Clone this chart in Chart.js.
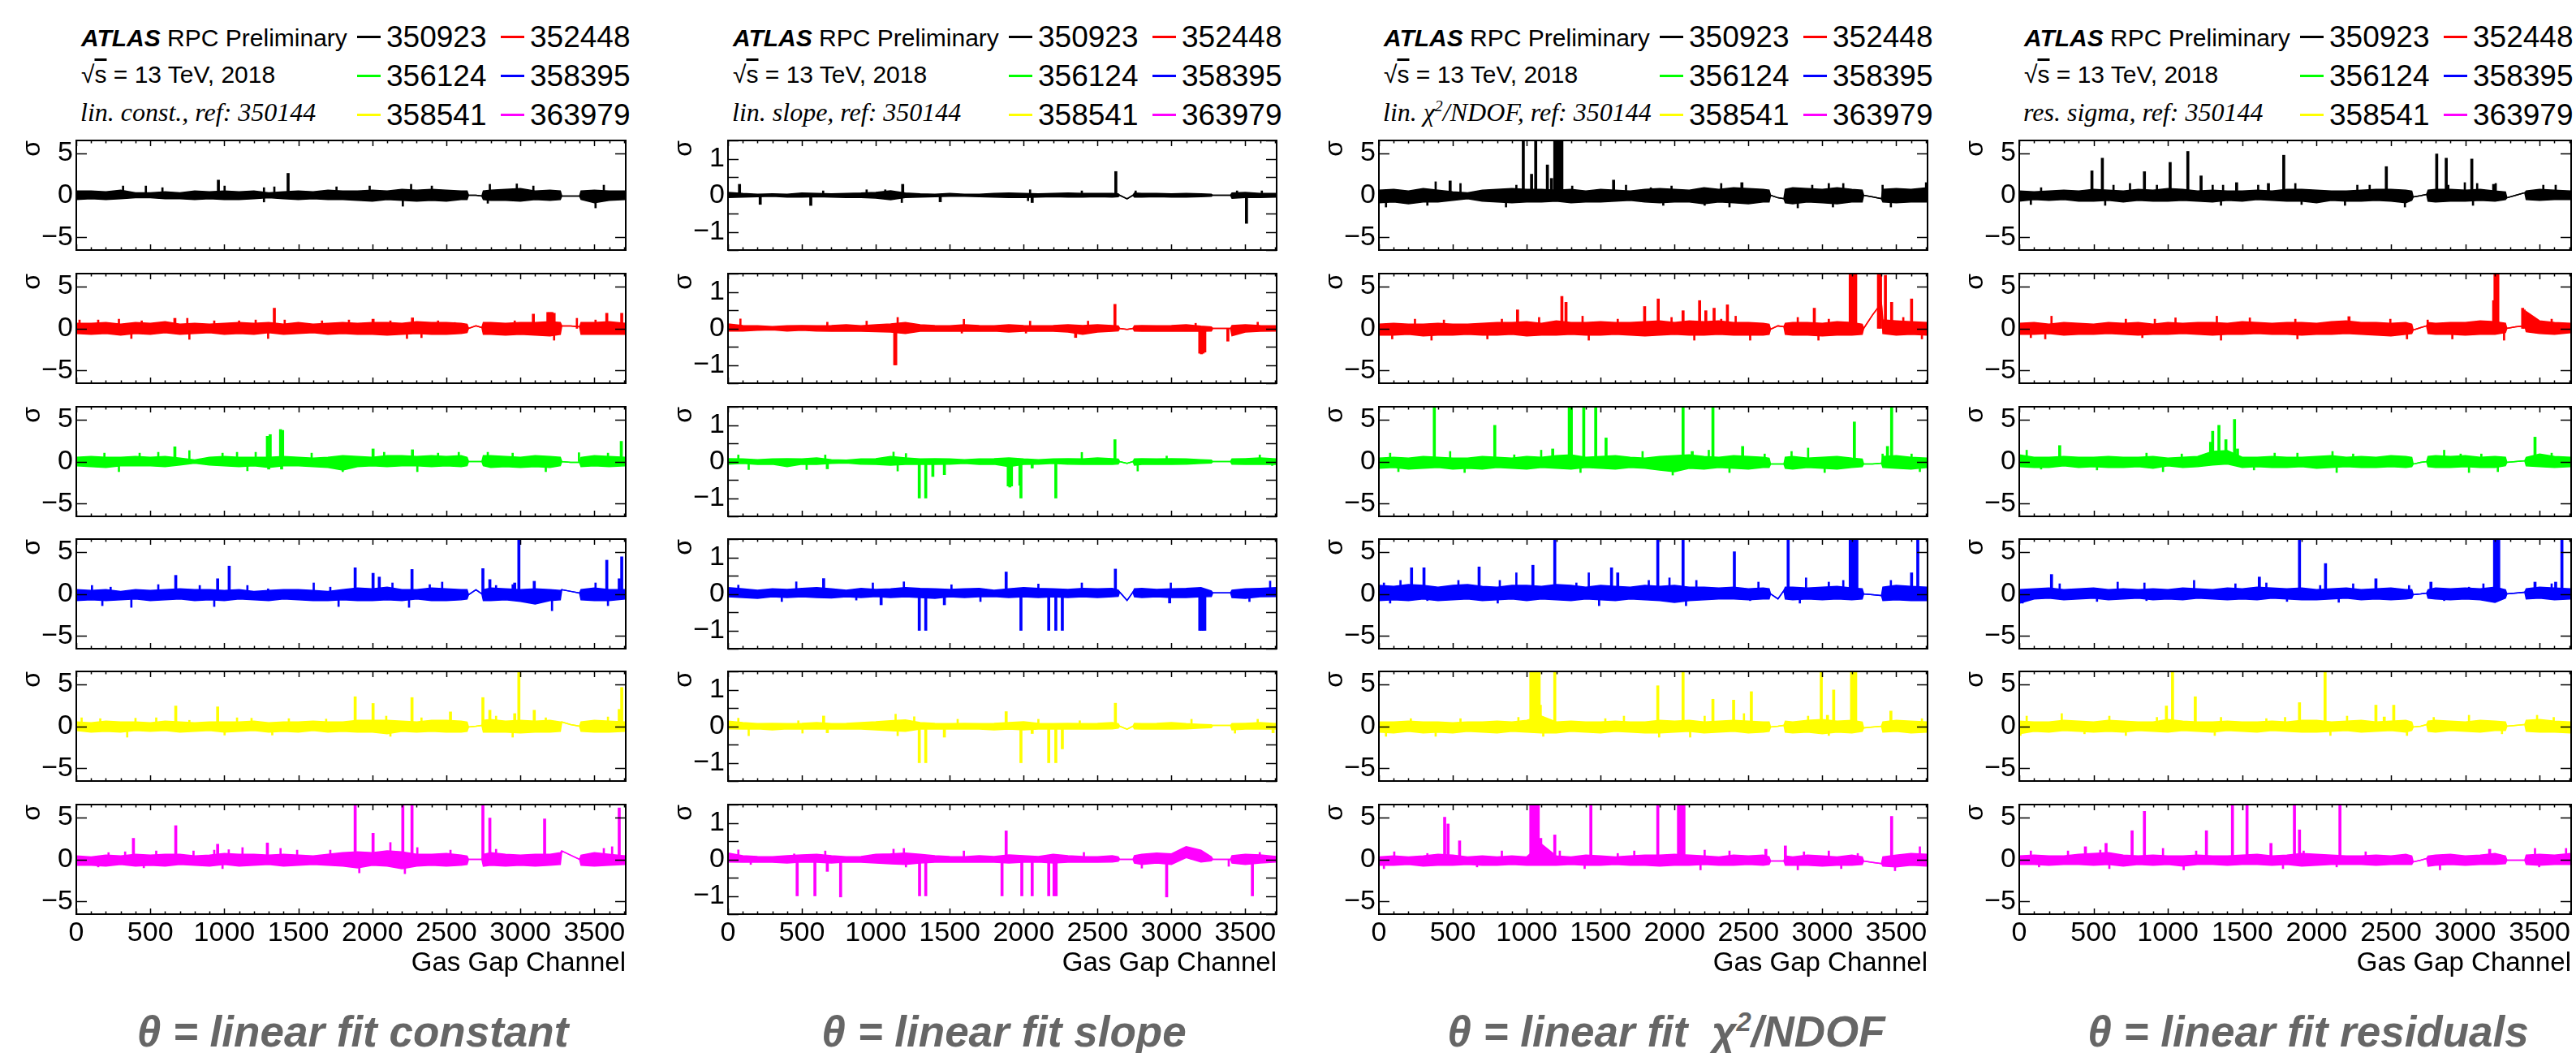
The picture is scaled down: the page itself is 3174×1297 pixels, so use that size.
<!DOCTYPE html>
<html lang="en">
<head>
<meta charset="utf-8">
<title>RPC gas gap channel stability</title>
<script src="https://cdn.jsdelivr.net/npm/chart.js@4.4.1/dist/chart.umd.min.js"></script>
<style>
  html, body { margin: 0; padding: 0; background: #fff; }
  #page { position: relative; width: 3174px; height: 1297px; overflow: hidden;
          font-family: "Liberation Sans", Arial, Helvetica, sans-serif; color: #000; }
  #page canvas { position: absolute; }
  .txt { position: absolute; white-space: nowrap; }
  .hdr { font-size: 30px; line-height: 30px; }
  .note { font-family: "Liberation Serif", "Times New Roman", serif; font-style: italic; font-size: 32px; line-height: 32px; }
  .run { font-size: 37px; line-height: 37px; }
  .swatch { position: absolute; width: 29px; height: 3px; }
  .theta { width: 900px; text-align: center; font-size: 53px; line-height: 53px;
           font-weight: bold; font-style: italic; color: #666; }
  sup { font-size: 0.62em; line-height: 0; }
</style>
</head>
<body>
<div id="page"></div>
<script>
// channels at which the band (upper / lower extent) of every trace is read
const channels = [0,100,200,300,400,500,600,700,800,900,1000,1100,1200,1300,1400,1500,1600,1700,1800,1900,
  2000,2100,2200,2300,2400,2500,2600, 2640,2650,2700,2740,2750, 2800,2900,3000,3100,3200,
  3270,3280,3340,3400,3410, 3500,3600,3710];

const runs = ["350923", "352448", "356124", "358395", "358541", "363979"];
const runColors = ["#000000", "#ff0000", "#00ff00", "#0000ff", "#ffff00", "#ff00ff"];

const xTickValues = [0, 500, 1000, 1500, 2000, 2500, 3000, 3500];
const yTickValues = [[-5, 0, 5], [-1, 0, 1], [-5, 0, 5], [-5, 0, 5]];
const yLimits = [6.5, 1.5, 6.5, 6.5];
const yMinorSteps = [5, 0.5, 5, 5];

const notes = ["lin. const., ref: 350144", "lin. slope, ref: 350144",
  "lin. &chi;<sup>2</sup>/NDOF, ref: 350144", "res. sigma, ref: 350144"];
const thetaNames = ["&theta; = linear fit constant", "&theta; = linear fit slope",
  "&theta; = linear fit&nbsp; &chi;<sup>2</sup>/NDOF", "&theta; = linear fit residuals"];

// ---- linear fit constant ----
const constHi = [
  [0.5,0.5,0.4,0.6,0.3,0.3,0.4,0.3,0.5,0.4,0.5,0.4,0.5,0.3,0.4,0.5,0.4,0.6,0.5,0.5,0.6,0.5,0.7,0.6,0.7,0.6,0.5,0.5, 0,0,-0.1, 0.5,0.6,0.7,0.8,0.5,0.6,0.5, -0.1,-0.1,-0.1, 0.5,0.6,0.5,0.5],
  [0.6,0.6,0.7,0.5,0.7,0.6,0.8,0.5,0.6,0.5,0.6,0.7,0.6,0.7,0.5,0.7,0.5,0.6,0.7,0.6,0.7,0.7,0.6,0.8,0.7,0.7,0.6,0.5, 0,0.3,0.1, 0.7,0.7,0.6,0.7,0.7,0.8,0.7, 0.3,0.3,0.2, 0.7,0.7,0.8,0.6],
  [0.5,0.6,0.5,0.5,0.6,0.5,0.6,0.4,0.2,0.5,0.6,0.5,0.5,0.5,0.6,0.5,0.4,0.5,0.7,0.6,0.5,0.7,0.7,0.6,0.7,0.6,0.7,0.5, 0,0,0, 0.7,0.7,0.6,0.5,0.7,0.6,0.5, 0,-0.1,-0.1, 0.5,0.7,0.6,0.5],
  [0.5,0.4,0.5,0.3,0.5,0.4,0.5,0.6,0.5,0.5,0.4,0.5,0.3,0.4,0.5,0.5,0.4,0.3,0.5,0.7,0.6,0.8,0.5,0.5,0.7,0.6,0.5,0.5, -0.1,0.5,0, 0.5,0.7,0.6,0.5,0.6,0.5,0.4, 0.5,0.3,0.1, 0.5,0.7,0.5,0.5],
  [0.5,0.4,0.6,0.5,0.5,0.4,0.6,0.5,0.4,0.5,0.5,0.5,0.6,0.4,0.5,0.5,0.6,0.5,0.5,0.7,0.7,0.7,0.6,0.5,0.7,0.7,0.6,0.5, -0.1,0,0.1, 0.7,0.8,0.6,0.7,0.6,0.7,0.5, 0.5,0.2,0, 0.5,0.7,0.6,0.5],
  [0.4,0.3,0.5,0.4,0.6,0.5,0.6,0.6,0.4,0.5,0.7,0.6,0.6,0.5,0.6,0.5,0.4,0.6,0.8,0.9,0.8,1.0,0.9,0.6,0.6,0.7,0.5,0.4, 0,0,0, 0.6,0.8,0.6,0.5,0.6,0.6,0.8, 1.0,0.5,0, 0.5,0.8,0.6,0.4]
];
const constLo = [
  [-0.5,-0.4,-0.5,-0.4,-0.3,-0.3,-0.4,-0.4,-0.5,-0.4,-0.5,-0.5,-0.4,-0.3,-0.4,-0.5,-0.4,-0.5,-0.5,-0.6,-0.7,-0.5,-0.6,-0.7,-0.6,-0.7,-0.5,-0.5, 0,0,-0.1, -0.5,-0.6,-0.6,-0.7,-0.5,-0.6,-0.5, -0.1,-0.1,-0.1, -0.5,-0.9,-0.6,-0.5],
  [-0.6,-0.7,-0.6,-0.8,-0.6,-0.7,-0.5,-0.7,-0.6,-0.5,-0.7,-0.6,-0.7,-0.5,-0.7,-0.6,-0.5,-0.7,-0.6,-0.7,-0.7,-0.8,-0.7,-0.6,-0.7,-0.7,-0.6,-0.5, 0,0.3,0.1, -0.7,-0.7,-0.8,-0.7,-0.8,-0.9,-0.7, 0.3,0.3,0.2, -0.7,-0.7,-0.7,-0.7],
  [-0.5,-0.6,-0.7,-0.5,-0.5,-0.5,-0.6,-0.4,-0.2,-0.4,-0.5,-0.6,-0.5,-0.7,-0.5,-0.5,-0.6,-0.7,-1.0,-0.6,-0.5,-0.6,-0.5,-0.5,-0.6,-0.5,-0.6,-0.5, 0,0,0, -0.5,-0.7,-0.6,-0.7,-0.6,-0.7,-0.5, 0,-0.1,-0.1, -0.6,-0.5,-0.6,-0.5],
  [-0.8,-0.7,-0.8,-0.7,-0.6,-0.8,-0.7,-0.6,-0.8,-0.7,-0.8,-0.6,-0.7,-0.8,-0.6,-0.7,-0.8,-0.8,-0.7,-0.8,-0.8,-0.7,-0.8,-0.6,-0.8,-0.8,-0.7,-0.6, -0.1,0.5,0, -0.8,-0.8,-0.7,-0.9,-1.2,-0.8,-0.7, 0.5,0.3,0.1, -0.7,-0.8,-0.8,-0.6],
  [-0.5,-0.7,-0.6,-0.7,-0.5,-0.6,-0.5,-0.7,-0.6,-0.5,-0.7,-0.6,-0.5,-0.7,-0.6,-0.7,-0.5,-0.7,-0.6,-0.7,-0.7,-0.9,-0.6,-0.7,-0.6,-0.7,-0.7,-0.6, -0.1,0,0.1, -0.7,-0.7,-0.7,-0.8,-0.7,-0.7,-0.6, 0.5,0.2,0, -0.6,-0.7,-0.7,-0.6],
  [-0.7,-0.7,-0.8,-0.6,-0.8,-0.7,-0.8,-0.6,-0.7,-0.8,-0.6,-0.8,-0.7,-0.6,-0.8,-0.7,-0.6,-0.7,-0.8,-1.0,-0.7,-0.8,-1.1,-0.8,-0.7,-0.8,-0.7,-0.6, 0,0,0, -0.8,-0.7,-0.8,-0.7,-0.8,-0.7,-0.6, 1.0,0.5,0, -0.7,-0.8,-0.7,-0.6]
];
const constSpikes = [
  [[960,1.8],[1431,2.6]],
  [[666,1.2],[1338,2.4],[2005,1.1],[2271,1.25],[3088,1.7],[3186,1.9],[3200,1.9],[3214,1.9],[3228,1.8],[3584,1.8],[3685,1.8]],
  [[666,1.75],[1291,3.0],[1300,-0.9],[1310,3.2],[1380,3.8],[1387,-0.9],[1394,3.7],[2005,1.5],[2271,1.4],[3682,2.4]],
  [[672,2.2],[955,1.8],[1033,3.3],[1884,3.1],[2005,2.45],[2047,2.0],[2268,2.9],[2747,3.0],[2794,1.7],[2962,1.3],[2990,7],[3094,1.5],[3584,4.0],[3668,1.8],[3685,4.4]],
  [[672,2.4],[955,2.3],[1884,3.5],[2005,2.7],[2268,3.4],[2528,1.7],[2747,3.4],[2794,1.9],[2962,1.5],[2990,7],[3094,1.9],[3668,2.0],[3685,4.6]],
  [[386,2.5],[672,4.0],[955,1.8],[1291,1.95],[1884,7],[2005,3.1],[2206,7],[2268,7],[2747,7],[2794,4.9],[3164,4.8],[3668,6.1]]
];
// small excursions poking out of the band
const constHairs = [
  [[316,1.1],[470,1.1],[582,0.9],[1002,1.1],[1268,0.9],[1338,1.0],[1758,1.0],[1982,1.1],[2262,1.3],[2402,1.1],[2794,1.3],[2976,1.35],[3088,1.1],[3564,1.2],[2206,-1.3],[3508,-1.5],[2780,-0.95],[1268,-0.8]],
  [[22,1.0],[148,1.0],[288,1.1],[442,0.9],[750,1.2],[932,0.9],[1100,0.9],[1212,1.0],[1408,1.0],[1660,0.9],[1842,1.0],[2122,0.9],[2444,0.9],[2556,0.7],[2962,0.9],[3382,1.2],[3508,1.0],[372,-1.2],[764,-1.3],[1296,-1.2],[2234,-1.2],[2332,-1.1],[3228,-1.4]],
  [[190,1.0],[428,1.0],[554,1.1],[764,1.3],[988,1.0],[1086,1.1],[1212,1.1],[1590,1.0],[2080,1.1],[2444,1.0],[2584,1.1],[2780,1.1],[2948,1.0],[3396,1.05],[3592,1.0],[288,-1.2],[1156,-1.1],[1800,-1.2],[2304,-1.2],[3172,-1.2]],
  [[106,1.0],[232,0.8],[554,1.1],[834,1.0],[1156,1.0],[1296,0.6],[1604,1.3],[1716,0.8],[2136,1.3],[2388,1.1],[2472,1.4],[2836,1.0],[2948,1.1],[3508,1.3],[176,-1.4],[372,-1.6],[932,-1.5],[1772,-1.5],[2248,-1.6],[3214,-2.0],[3592,-1.4]],
  [[36,1.0],[162,0.9],[400,0.95],[540,1.0],[764,0.7],[1086,1.0],[1184,0.95],[1436,0.9],[1688,0.85],[2094,1.2],[2332,1.0],[2836,1.2],[3172,1.0],[3592,1.1],[344,-1.3],[1002,-1.05],[1324,-1.05],[2122,-1.2],[2948,-1.3]],
  [[218,0.8],[330,0.9],[540,1.0],[792,1.0],[932,1.1],[1030,1.15],[1123,1.4],[1380,1.3],[1492,1.1],[1716,1.1],[2122,2.0],[2304,1.4],[2528,1.1],[2836,1.2],[3564,1.3],[3620,1.5],[148,-0.9],[456,-1.0],[988,-1.1],[1912,-1.6],[2220,-1.7]]
];

// ---- linear fit slope ----
const slopeHi = [
  [0.08,0.05,0.03,0.04,0.03,0.06,0.05,0.04,0.05,0.06,0.08,0.12,0.06,0.04,0.03,0.05,0.03,0.03,0.05,0.06,0.05,0.04,0.05,0.06,0.05,0.05,0.05,0.04, 0,-0.1,0, 0.06,0.05,0.05,0.04,0.05,0.04,0.03, 0,0,0, 0.06,0.08,0.05,0.05],
  [0.12,0.08,0.07,0.05,0.07,0.08,0.07,0.08,0.1,0.07,0.1,0.12,0.16,0.1,0.08,0.07,0.1,0.08,0.07,0.1,0.08,0.07,0.08,0.1,0.08,0.1,0.08,0.07, 0,-0.03,0, 0.07,0.08,0.07,0.08,0.1,0.06,0.04, 0,0,0, 0.08,0.1,0.08,0.07],
  [0.08,0.07,0.05,0.07,0.08,0.07,0.1,0.05,0.04,0.07,0.08,0.14,0.1,0.07,0.08,0.07,0.05,0.07,0.08,0.1,0.07,0.05,0.07,0.08,0.07,0.1,0.08,0.07, 0,-0.05,0, 0.07,0.08,0.07,0.08,0.07,0.05,0.04, 0,0,0, 0.07,0.08,0.1,0.07],
  [0.17,0.14,0.1,0.14,0.12,0.15,0.17,0.14,0.1,0.15,0.12,0.14,0.17,0.15,0.14,0.12,0.14,0.15,0.1,0.14,0.17,0.15,0.14,0.12,0.15,0.14,0.15,0.1, 0.05,-0.18,0.05, 0.14,0.15,0.12,0.14,0.15,0.17,0.08, 0.03,0.03,0.03, 0.1,0.14,0.15,0.17],
  [0.14,0.1,0.07,0.08,0.07,0.08,0.1,0.07,0.08,0.1,0.12,0.15,0.17,0.1,0.08,0.07,0.08,0.07,0.08,0.1,0.12,0.08,0.07,0.08,0.07,0.08,0.1,0.07, 0,-0.08,0, 0.08,0.07,0.08,0.1,0.07,0.05,0.04, 0.02,0.02,0.02, 0.07,0.08,0.1,0.07],
  [0.17,0.1,0.08,0.07,0.1,0.12,0.14,0.1,0.07,0.08,0.14,0.15,0.17,0.14,0.1,0.08,0.07,0.1,0.08,0.12,0.1,0.08,0.14,0.1,0.08,0.07,0.1,0.07, 0,0,0, 0.1,0.14,0.17,0.15,0.35,0.25,0.07, 0,0,0, 0.1,0.14,0.12,0.08]
];
const slopeLo = [
  [-0.06,-0.05,-0.04,-0.03,-0.05,-0.05,-0.04,-0.05,-0.06,-0.06,-0.08,-0.12,-0.06,-0.05,-0.04,-0.03,-0.03,-0.04,-0.05,-0.06,-0.06,-0.05,-0.04,-0.05,-0.05,-0.04,-0.05,-0.04, 0,-0.1,0, -0.05,-0.05,-0.04,-0.05,-0.05,-0.04,-0.03, 0,0,0, -0.08,-0.06,-0.06,-0.05],
  [-0.07,-0.07,-0.05,-0.04,-0.07,-0.05,-0.07,-0.08,-0.07,-0.08,-0.09,-0.1,-0.14,-0.08,-0.07,-0.08,-0.07,-0.08,-0.07,-0.1,-0.08,-0.07,-0.08,-0.1,-0.16,-0.1,-0.08,-0.07, 0,-0.03,0, -0.07,-0.08,-0.07,-0.08,-0.07,-0.08,-0.07, 0,0,0, -0.2,-0.1,-0.08,-0.07],
  [-0.07,-0.05,-0.08,-0.07,-0.14,-0.07,-0.08,-0.05,-0.04,-0.07,-0.08,-0.1,-0.08,-0.07,-0.08,-0.07,-0.05,-0.08,-0.07,-0.14,-0.08,-0.07,-0.05,-0.07,-0.08,-0.07,-0.08,-0.07, 0,-0.05,0, -0.1,-0.08,-0.07,-0.08,-0.07,-0.05,-0.04, 0,0,0, -0.07,-0.08,-0.07,-0.08],
  [-0.08,-0.1,-0.12,-0.08,-0.1,-0.08,-0.1,-0.11,-0.08,-0.1,-0.07,-0.1,-0.08,-0.1,-0.12,-0.08,-0.1,-0.08,-0.07,-0.1,-0.08,-0.1,-0.08,-0.1,-0.08,-0.1,-0.08,-0.07, 0.05,-0.18,0.05, -0.08,-0.1,-0.08,-0.1,-0.1,-0.08,-0.07, 0.03,0.03,0.03, -0.1,-0.12,-0.08,-0.07],
  [-0.07,-0.08,-0.07,-0.1,-0.07,-0.08,-0.07,-0.08,-0.07,-0.08,-0.1,-0.12,-0.14,-0.08,-0.07,-0.08,-0.07,-0.08,-0.1,-0.08,-0.1,-0.08,-0.07,-0.08,-0.07,-0.08,-0.07,-0.05, 0,-0.08,0, -0.07,-0.08,-0.07,-0.08,-0.07,-0.05,-0.04, 0.02,0.02,0.02, -0.1,-0.08,-0.07,-0.08],
  [-0.07,-0.08,-0.07,-0.08,-0.1,-0.07,-0.08,-0.1,-0.07,-0.08,-0.1,-0.12,-0.14,-0.1,-0.08,-0.07,-0.08,-0.07,-0.08,-0.1,-0.08,-0.07,-0.1,-0.08,-0.07,-0.08,-0.07,-0.05, 0,0,0, -0.1,-0.14,-0.1,-0.14,0.05,-0.07,-0.04, 0,0,0, -0.1,-0.14,-0.1,-0.07]
];
const slopeSpikes = [
  [[78,0.3],[218,-0.25],[560,-0.28],[1182,0.3],[1436,-0.18],[2058,-0.2],[2624,0.65],[3508,-0.77]],
  [[1128,-1.0],[1135,-1.0],[2352,-0.25],[2618,0.66],[3192,-0.68],[3203,-0.7],[3214,-0.68],[3226,-0.65],[3382,-0.35]],
  [[672,-0.2],[1294,-1],[1338,-1],[1386,-0.41],[1464,-0.36],[1896,-0.67],[1907,-0.7],[1918,-0.67],[1975,-0.65],[1982,-1],[2058,-0.18],[2218,-1],[2618,0.6]],
  [[647,0.42],[1036,-0.3],[1294,-1],[1338,-1],[1464,-0.3],[1882,0.6],[1982,-1],[2170,-1],[2218,-1],[2262,-1],[2621,0.68],[2988,-0.25],[3192,-1],[3203,-1],[3214,-1],[3226,-1]],
  [[647,0.28],[672,-0.18],[1294,-1],[1338,-1],[1464,-0.3],[1882,0.4],[1982,-1],[2058,-0.2],[2170,-1],[2218,-1],[2262,-0.62],[2621,0.63],[3688,-0.18]],
  [[468,-1],[588,-1],[672,-0.33],[762,-1.03],[1296,-1],[1338,-1],[1854,-1],[1882,0.78],[1988,-1],[2058,-1],[2170,-1],[2206,-1],[2220,-1],[2968,-1.03],[3548,-1]]
];
const slopeHairs = [
  [[644,0.12],[938,0.15],[1064,0.15],[2044,0.15],[2394,0.12],[2758,0.12],[3444,0.12],[3612,0.12],[1176,-0.2],[2030,-0.15]],
  [[84,0.26],[672,0.17],[938,0.2],[1148,0.3],[1596,0.25],[2044,0.2],[2436,0.2],[3164,0.14],[3584,0.17],[1582,-0.13],[2016,-0.13]],
  [[70,0.18],[658,0.18],[1120,0.26],[1204,0.22],[2394,0.25],[2968,0.15],[3598,0.18],[140,-0.22],[532,-0.22],[1148,-0.26],[2772,-0.26],[3682,-0.11]],
  [[70,0.24],[462,0.33],[980,0.3],[1190,0.33],[1512,0.25],[2100,0.27],[2394,0.3],[2996,0.3],[3668,0.35],[364,-0.21],[868,-0.17],[1708,-0.21],[3528,-0.21]],
  [[70,0.22],[476,0.15],[1134,0.33],[1260,0.26],[1554,0.19],[2100,0.19],[2380,0.15],[3136,0.19],[3584,0.19],[140,-0.26],[504,-0.19],[1148,-0.26],[3430,-0.19]],
  [[70,0.26],[448,0.15],[658,0.23],[1120,0.28],[1190,0.3],[1596,0.23],[2408,0.19],[3136,0.26],[3598,0.19],[154,-0.14],[1204,-0.21],[2800,-0.24],[3388,-0.19]]
];

// ---- linear fit chi2/NDOF ----
const chi2Hi = [
  [0.6,0.7,0.5,0.8,0.6,0.4,0.3,0.6,0.7,0.8,0.7,0.7,0.6,0.7,0.5,0.7,0.6,0.5,0.7,0.8,0.7,0.6,0.9,0.7,0.9,0.8,0.7,0.6, 0,-0.3,-0.4, 0.7,0.9,0.8,0.7,0.9,0.7,0.6, 0,-0.2,-0.4, 0.7,0.8,0.7,0.9],
  [0.5,0.6,0.5,0.5,0.6,0.5,0.5,0.6,0.7,0.7,0.8,0.6,0.9,0.7,0.7,0.8,0.7,0.7,0.8,0.9,0.7,0.9,0.8,0.9,0.7,0.7,0.6,0.5, -0.1,0.3,0.2, 0.6,0.7,0.7,0.6,0.8,0.7,0.5, 0,1.6,3.0, 1.0,0.9,0.8,0.7],
  [0.4,0.5,0.4,0.6,0.5,0.4,0.4,0.6,0.5,0.4,0.6,0.5,0.7,0.8,0.5,0.6,0.7,0.5,0.4,0.6,0.7,0.8,0.6,0.5,0.7,0.6,0.5,0.4, -0.3,-0.3,-0.3, 0.5,0.6,0.4,0.5,0.6,0.4,0.3, -0.3,-0.3,-0.2, 0.6,0.7,0.5,0.4],
  [1.0,0.9,1.1,1.0,0.8,1.0,1.1,0.9,0.8,1.0,1.0,0.9,1.1,1.0,0.8,1.0,0.9,0.8,1.0,0.9,1.0,0.8,0.8,0.7,0.8,0.6,0.7,0.6, 0,-0.6,0.4, 0.8,0.8,0.7,0.8,0.9,0.7,0.6, 0,-0.1,-0.2, 0.8,1.0,0.9,0.8],
  [0.5,0.5,0.6,0.5,0.5,0.4,0.5,0.5,0.6,0.5,0.7,1.2,0.5,0.6,0.5,0.5,0.6,0.5,0.5,0.7,0.6,0.7,0.5,0.6,0.7,0.6,0.5,0.5, -0.1,0,0.1, 0.6,0.5,0.7,0.8,0.6,0.7,0.5, -0.2,-0.1,0, 0.5,0.7,0.6,0.5],
  [0.3,0.4,0.3,0.4,0.6,0.5,0.3,0.4,0.3,0.4,0.3,1.8,0.4,0.3,0.5,0.4,0.3,0.4,0.5,0.5,0.6,0.5,0.4,0.3,0.5,0.4,0.5,0.3, -0.2,-0.2,-0.2, 0.4,0.3,0.5,0.4,0.3,0.5,0.3, -0.2,-0.35,-0.5, 0.3,0.5,0.7,0.6]
];
const chi2Lo = [
  [-0.9,-0.8,-1.0,-0.8,-0.8,-0.6,-0.4,-0.7,-0.8,-0.9,-0.8,-0.8,-0.7,-0.9,-0.8,-0.8,-0.7,-0.6,-0.8,-0.9,-0.8,-0.8,-1.0,-0.8,-0.9,-1.0,-0.8,-0.8, 0,-0.3,-0.4, -0.9,-1.0,-0.8,-0.9,-1.0,-0.8,-0.8, 0,-0.2,-0.4, -0.8,-0.9,-0.8,-0.8],
  [-0.8,-0.8,-0.7,-0.9,-0.8,-0.8,-0.7,-0.8,-0.8,-0.7,-0.9,-0.8,-0.8,-0.7,-0.8,-0.8,-0.7,-0.8,-0.9,-0.8,-0.7,-0.8,-0.8,-0.7,-0.8,-0.8,-0.8,-0.7, -0.1,0.3,0.2, -0.7,-0.8,-0.8,-0.9,-0.8,-0.8,-0.7, 0,1.6,3.0, -0.6,-0.8,-0.7,-0.8],
  [-0.8,-0.7,-0.9,-0.8,-0.7,-0.9,-0.8,-0.9,-0.7,-0.8,-0.9,-0.7,-0.8,-0.9,-0.7,-0.8,-0.9,-0.7,-0.8,-1.0,-1.2,-0.8,-0.9,-0.7,-0.8,-0.9,-0.7,-0.7, -0.3,-0.3,-0.3, -0.8,-0.9,-0.7,-0.8,-0.9,-0.7,-0.6, -0.3,-0.3,-0.2, -0.7,-0.8,-0.9,-0.7],
  [-0.8,-0.7,-0.8,-0.6,-0.8,-0.7,-0.6,-0.8,-0.7,-0.6,-0.8,-0.6,-0.7,-0.8,-0.6,-0.7,-0.8,-0.6,-0.7,-0.8,-1.0,-0.8,-0.7,-0.6,-0.6,-0.7,-0.6,-0.6, 0,-0.6,0.4, -0.6,-0.7,-0.6,-0.7,-0.6,-0.7,-0.6, 0,-0.1,-0.2, -0.8,-0.7,-0.8,-0.8],
  [-0.7,-0.8,-0.6,-0.8,-0.7,-0.8,-0.6,-0.7,-0.8,-0.6,-0.7,-0.8,-0.8,-0.6,-0.7,-0.8,-0.6,-0.7,-0.8,-0.8,-0.7,-0.6,-0.8,-0.7,-0.6,-0.8,-0.7,-0.6, -0.1,0,0.1, -0.7,-0.8,-0.7,-0.9,-0.7,-0.8,-0.6, -0.2,-0.1,0, -0.7,-0.6,-0.8,-0.7],
  [-0.7,-0.7,-0.6,-0.8,-0.7,-0.7,-0.6,-0.7,-0.7,-0.6,-0.7,-0.7,-0.7,-0.6,-0.7,-0.7,-0.6,-0.7,-0.7,-0.8,-0.7,-0.7,-0.6,-0.7,-0.7,-0.6,-0.7,-0.6, -0.2,-0.2,-0.2, -0.7,-0.7,-0.7,-0.8,-0.7,-0.7,-0.6, -0.2,-0.35,-0.5, -0.8,-0.9,-0.7,-0.8]
];
const chi2Spikes = [
  [[482,1.7],[977,7],[1033,2.5],[1061,7],[1140,3.6],[1168,2.0],[1190,7],[1200,7],[1210,7],[1220,7],[1230,7],[1238,7],[1588,1.8],[2456,1.5]],
  [[938,2.2],[1238,3.8],[1266,3.1],[1798,2.6],[1890,3.5],[2058,2.1],[2170,3.3],[2212,2.1],[2268,2.4],[2358,2.8],[2946,2.4],[3189,7],[3200,7],[3210,7],[3220,7],[3226,7],[3380,7],[3394,7],[3427,6.3],[3469,3.1],[3604,3.5]],
  [[375,7],[784,4.3],[1176,1.5],[1288,7],[1302,7],[1386,7],[1467,7],[1537,2.8],[2058,7],[2120,1.2],[2260,7],[2461,1.8],[3217,4.7],[3441,1.8],[3469,7]],
  [[221,3.1],[305,3.1],[678,3.2],[1042,3.4],[1190,7],[1574,3.1],[1616,2.5],[1887,7],[2058,7],[2405,5.0],[2769,7],[3189,7],[3200,7],[3212,7],[3223,7],[3234,7],[3604,2.5],[3646,7]],
  [[1028,7],[1040,7],[1050,7],[1060,7],[1070,7],[1084,7],[1092,2.5],[1190,7],[1887,4.8],[2058,7],[2260,3.2],[2400,3.1],[2520,4.1],[2993,7],[3035,1.3],[3077,4.3],[3198,7],[3210,7],[3226,7],[3464,1.8]],
  [[445,5.0],[468,4.2],[546,2.2],[1028,7],[1040,7],[1050,7],[1060,7],[1070,7],[1078,7],[1095,2.5],[1190,2.9],[1434,7],[1887,7],[2027,7],[2040,7],[2052,7],[2064,7],[2618,1.2],[2750,1.6],[3469,5.1]]
];
const chi2Hairs = [
  [[384,1.6],[552,1.4],[930,1.2],[1308,1.1],[1672,1.2],[1840,0.9],[1980,1.1],[2316,1.4],[2932,1.2],[3044,1.4],[3142,1.4],[3408,1.2],[3702,1.5],[48,-1.4],[328,-1.2],[860,-1.4],[1924,-1.2],[2204,-1.2],[2372,-1.4],[2834,-1.5],[3072,-1.4],[3464,-1.4]],
  [[244,1.1],[440,1.0],[832,1.1],[1084,1.3],[1378,1.45],[1616,1.1],[1980,1.3],[2316,1.1],[2414,1.45],[2834,1.3],[3044,1.1],[3548,1.3],[90,-1.25],[356,-1.4],[734,-1.25],[1420,-1.4],[2134,-1.4],[2512,-1.4],[2974,-1.4],[3674,-1.25]],
  [[76,1.0],[482,1.2],[916,0.8],[1098,1.35],[1784,1.2],[2232,1.35],[2610,0.9],[2792,1.2],[2904,1.6],[3408,0.9],[3604,0.9],[132,-1.2],[580,-1.3],[1364,-1.3],[1988,-1.6],[2372,-1.3],[3016,-1.3],[3660,-1.2]],
  [[34,1.3],[146,1.6],[538,1.6],[818,1.6],[930,2.5],[1336,1.3],[1420,2.5],[1826,1.6],[1966,1.9],[2148,1.6],[2568,1.4],[2890,1.9],[3044,1.4],[3142,1.6],[3464,1.6],[76,-1.1],[328,-0.8],[804,-1.1],[1490,-1.4],[2078,-1.4],[2512,-0.8],[2848,-1.1]],
  [[216,0.9],[552,0.9],[944,1.05],[1532,0.9],[1658,1.2],[2204,1.2],[2470,1.5],[2904,1.2],[3674,0.9],[48,-1.2],[384,-1.2],[1112,-1.2],[1896,-1.3],[2106,-1.3],[3044,-1.1]],
  [[104,0.9],[328,0.7],[832,1.0],[1224,1.0],[1616,0.7],[1728,1.0],[2204,1.1],[2372,1.0],[2876,0.9],[3044,1.0],[3240,0.7],[3660,1.5],[34,-1.1],[664,-0.9],[1392,-1.1],[2176,-1.25],[2834,-1.25],[3128,-1.1],[3492,-1.35]]
];

// ---- linear fit residuals ----
const resHi = [
  [0.5,0.4,0.5,0.6,0.5,0.7,0.6,0.5,0.7,0.6,0.8,0.7,0.5,0.6,0.5,0.5,0.6,0.5,0.7,0.7,0.6,0.5,0.5,0.6,0.7,0.7,0.6,0.5, -0.2,-0.05,0.1, 0.6,0.7,0.7,0.6,0.7,0.5,0.4, -0.3,0,0.3, 0.5,0.7,0.6,0.5],
  [0.6,0.7,0.5,0.7,0.6,0.5,0.7,0.6,0.7,0.5,0.7,0.6,0.7,0.7,0.6,0.8,0.7,0.6,0.7,0.7,0.6,0.8,0.9,0.7,0.7,0.6,0.7,0.5, -0.2,0.1,0.3, 0.7,0.6,0.7,0.7,0.9,0.8,0.6, 0,0.2,0.3, 2.0,0.9,0.7,0.6],
  [0.8,0.5,0.5,0.6,0.5,0.5,0.6,0.5,0.5,0.6,0.4,0.5,0.6,1.2,1.3,0.5,0.5,0.6,0.5,0.5,0.6,0.7,0.5,0.6,0.5,0.7,0.6,0.5, -0.3,-0.1,0, 0.6,0.7,0.6,0.7,0.5,0.6,0.5, -0.1,0,0.1, 0.5,0.9,0.6,0.5],
  [0.5,0.6,0.7,0.5,0.6,0.7,0.5,0.6,0.5,0.6,0.5,0.7,0.6,0.5,0.7,0.6,0.8,0.7,0.6,0.7,0.5,0.6,0.7,0.5,0.6,0.7,0.5,0.5, -0.1,0,0.1, 0.5,0.7,0.6,0.7,0.6,0.8,0.5, 0,0.1,0.2, 0.6,0.8,0.7,0.6],
  [0.6,0.5,0.5,0.7,0.6,0.5,0.7,0.6,0.5,0.5,0.8,0.6,0.5,0.5,0.6,0.5,0.5,0.6,0.5,0.7,0.7,0.5,0.6,0.7,0.5,0.6,0.7,0.5, -0.1,0,0.2, 0.6,0.7,0.6,0.5,0.7,0.6,0.5, 0,0.1,0.2, 0.7,0.8,0.6,0.5],
  [0.4,0.5,0.4,0.4,0.6,0.7,0.8,0.5,0.4,0.5,0.4,0.4,0.5,0.4,0.4,0.5,0.6,0.4,0.5,0.7,0.6,0.5,0.4,0.4,0.5,0.4,0.6,0.4, -0.3,-0.1,0.1, 0.4,0.5,0.6,0.4,0.5,0.7,0.4, -0.1,-0.1,-0.1, 0.5,0.6,0.5,0.7]
];
const resLo = [
  [-0.7,-0.5,-0.6,-0.5,-0.7,-0.7,-0.6,-0.8,-0.6,-0.7,-0.7,-0.6,-0.7,-0.8,-0.6,-0.7,-0.5,-0.6,-0.7,-0.7,-0.9,-0.6,-0.7,-0.7,-0.6,-0.7,-0.9,-0.6, -0.2,-0.05,0.1, -0.7,-0.8,-0.7,-0.7,-0.6,-0.7,-0.5, -0.3,0,0.3, -0.5,-0.6,-0.5,-0.5],
  [-0.7,-0.7,-0.6,-0.8,-0.7,-0.7,-0.6,-0.7,-0.8,-0.7,-0.7,-0.6,-0.7,-0.8,-0.7,-0.7,-0.6,-0.7,-0.7,-0.8,-0.7,-0.7,-0.6,-0.7,-0.8,-0.9,-0.7,-0.6, -0.2,0.1,0.3, -0.6,-0.7,-0.7,-0.8,-0.7,-0.7,-0.5, 0,0.2,0.3, -0.4,-0.6,-0.7,-0.5],
  [-0.6,-0.7,-0.7,-0.5,-0.7,-0.6,-0.7,-0.7,-0.6,-0.8,-0.5,-0.7,-0.6,-0.4,-0.3,-0.7,-0.6,-0.7,-0.7,-0.6,-0.8,-0.7,-0.6,-0.7,-0.7,-0.6,-0.7,-0.6, -0.3,-0.1,0, -0.6,-0.7,-0.7,-0.6,-0.7,-0.7,-0.5, -0.1,0,0.1, -0.5,-0.6,-0.7,-0.6],
  [-1.1,-0.6,-0.5,-0.7,-0.6,-0.5,-0.7,-0.6,-0.5,-0.7,-0.6,-0.7,-0.5,-0.6,-0.7,-0.6,-0.7,-0.5,-0.6,-0.7,-0.7,-0.6,-0.5,-0.7,-0.6,-0.7,-0.6,-0.5, -0.1,0,0.1, -0.5,-0.6,-0.7,-0.6,-0.7,-1.0,-0.5, 0,0.1,0.2, -0.6,-0.5,-0.7,-0.6],
  [-0.9,-0.6,-0.7,-0.5,-0.6,-0.7,-0.6,-0.7,-0.5,-0.6,-0.7,-0.5,-0.6,-0.7,-0.5,-0.6,-0.7,-0.5,-0.6,-0.7,-0.7,-0.6,-0.5,-0.7,-0.6,-0.5,-0.7,-0.5, -0.1,0,0.2, -0.6,-0.7,-0.5,-0.6,-0.7,-0.5,-0.5, 0,0.1,0.2, -0.6,-0.7,-0.7,-0.8],
  [-0.6,-0.6,-0.7,-0.6,-0.6,-0.7,-0.6,-0.8,-0.6,-0.7,-0.6,-0.8,-0.6,-0.6,-0.7,-0.6,-0.6,-0.7,-0.6,-0.8,-0.7,-0.6,-0.6,-0.6,-0.7,-0.6,-0.6,-0.6, -0.3,-0.1,0.1, -0.8,-0.7,-0.6,-0.7,-0.6,-0.6,-0.5, -0.1,-0.1,-0.1, -0.6,-0.7,-0.6,-0.6]
];
const resSpikes = [
  [[489,2.9],[559,4.4],[842,2.8],[1015,3.9],[1134,5.2],[1223,2.3],[1462,1.5],[1676,1.4],[1779,4.75],[2469,3.4],[2808,4.9],[2872,4.4],[3044,4.3],[3191,1.3]],
  [[2218,1.4],[3191,3.3],[3200,7],[3210,7],[3219,7],[3386,2.4],[3396,2.2]],
  [[272,1.9],[1287,2.3],[1301,3.6],[1343,4.3],[1390,2.6],[1448,5.0],[1468,1.5],[3469,2.9]],
  [[217,2.3],[1615,2.0],[1885,7],[2060,3.6],[2399,1.8],[2769,1.4],[3197,7],[3207,7],[3216,7],[3225,7],[3469,1.4],[3608,1.4],[3650,7]],
  [[990,2.4],[1031,7],[1184,3.5],[1885,2.8],[2057,7],[2399,2.5],[2455,1.1],[2519,2.5]],
  [[445,1.5],[584,1.9],[759,3.4],[842,5.7],[1259,3.4],[1434,7],[1532,7],[1693,1.9],[1851,7],[1885,3.5],[2157,7],[3164,1.2]]
];
const resHairs = [
  [[147,0.9],[634,1.2],[745,1.4],[926,1.2],[1301,1.2],[1371,1.2],[1607,1.2],[1857,1.4],[2274,1.2],[2357,1.2],[2886,1.2],[2997,1.5],[3080,1.4],[3205,1.4],[3525,1.2],[3608,1.2],[78,-1.1],[578,-1.2],[1357,-1.2],[1899,-1.1],[2191,-1.2],[2594,-1.4],[3052,-1.2]],
  [[217,1.45],[717,1.1],[912,1.1],[1051,1.25],[1329,1.45],[1551,1.25],[1857,1.1],[2496,1.1],[2747,1.0],[3581,1.1],[78,-1.1],[175,-1.25],[828,-1.1],[1357,-1.4],[1871,-1.25],[2608,-1.25],[2913,-1.25],[3261,-1.4]],
  [[50,1.35],[856,1.0],[1093,0.9],[1718,1.0],[1871,1.0],[2107,1.2],[2246,0.9],[2858,1.35],[2969,0.9],[3108,0.9],[3581,1.0],[147,-0.9],[523,-1.0],[967,-1.2],[1579,-1.0],[2135,-1.3],[3025,-1.3],[3219,-1.2]],
  [[272,1.2],[662,1.4],[842,1.3],[1176,1.6],[1454,1.2],[1662,1.3],[2024,1.0],[2246,1.2],[2622,1.0],[3025,0.8],[3122,1.2],[3581,1.2],[22,-1.1],[523,-0.9],[856,-0.8],[1801,-0.9],[2149,-1.0],[2858,-0.8]],
  [[50,1.2],[286,1.5],[606,1.2],[926,1.05],[1357,1.05],[1662,0.9],[1788,1.05],[2205,1.2],[2788,1.05],[3025,1.3],[3483,1.3],[3595,1.05],[8,-1.1],[439,-0.9],[717,-1.1],[1315,-1.1],[2093,-1.1],[2608,-1.1],[3247,-0.9]],
  [[78,1.0],[328,1.0],[545,1.1],[967,1.3],[1190,1.0],[1913,1.0],[2330,0.9],[3469,1.3],[3678,1.3],[133,-0.9],[606,-1.1],[1106,-1.25],[1774,-1.1],[2135,-0.9],[2830,-1.25],[3497,-0.9]]
];

const bandHi = [constHi, slopeHi, chi2Hi, resHi];
const bandLo = [constLo, slopeLo, chi2Lo, resLo];
const spikes = [constSpikes, slopeSpikes, chi2Spikes, resSpikes];
const hairs = [constHairs, slopeHairs, chi2Hairs, resHairs];

// page layout (pixels)
const colLeft = [94, 897, 1699, 2488];
const colRight = [771, 1573, 2375, 3168];
const rowTop = [173, 337, 501, 664, 827, 991];
const BOX_H = 135;
const Y_AXIS_W = 73, PAD_TOP = 30, PAD_RIGHT = 60, PAD_BOTTOM = 30, X_AXIS_H = 81;
const X_MAX = 3712;

Chart.defaults.font.family = '"Liberation Sans", Arial, Helvetica, sans-serif';
Chart.defaults.color = "#000";

// ROOT style frame: box plus inward ticks on all four sides
const frameTicks = {
  id: "frameTicks",
  afterDraw(chart, args, opts) {
    const { ctx, chartArea: a, scales: { x, y } } = chart;
    ctx.save();
    ctx.strokeStyle = "#000";
    ctx.lineWidth = 1.5;
    ctx.beginPath();
    for (let c = 0; c <= X_MAX; c += 100) {
      const px = Math.round(x.getPixelForValue(c)) + 0.5;
      const len = c % 500 === 0 ? 7 : 3.5;
      ctx.moveTo(px, a.top); ctx.lineTo(px, a.top + len);
      ctx.moveTo(px, a.bottom); ctx.lineTo(px, a.bottom - len);
    }
    const step = opts.step;
    for (let v = -Math.floor(y.max / step) * step; v <= y.max + 1e-9; v += step) {
      const py = Math.round(y.getPixelForValue(v)) + 0.5;
      ctx.moveTo(a.left, py); ctx.lineTo(a.left + 13, py);
      ctx.moveTo(a.right, py); ctx.lineTo(a.right - 13, py);
    }
    ctx.stroke();
    ctx.lineWidth = 2;
    ctx.strokeRect(a.left, a.top, a.right - a.left, a.bottom - a.top);
    ctx.restore();
  }
};

const page = document.getElementById("page");

function addText(cls, left, top, html) {
  const d = document.createElement("div");
  d.className = "txt " + cls;
  d.style.left = left + "px";
  d.style.top = top + "px";
  d.innerHTML = html;
  page.appendChild(d);
  return d;
}

const toXY = list => list.map(([x, y]) => ({ x, y }));

for (let c = 0; c < 4; c++) {
  const L = colLeft[c];
  const boxW = colRight[c] - colLeft[c];

  // header
  addText("hdr", L + 6, 32, "<b><i>ATLAS</i></b> RPC Preliminary");
  addText("hdr", L + 6, 77, '&radic;<span style="text-decoration:overline">s</span> = 13 TeV, 2018');
  addText("note", L + 5, 122, notes[c]);

  // legend
  const legRowY = [45, 93, 141];
  runs.forEach((run, k) => {
    const row = Math.floor(k / 2), side = k % 2;
    const sw = document.createElement("div");
    sw.className = "swatch";
    sw.style.left = (L + (side ? 523 : 346)) + "px";
    sw.style.top = (legRowY[row] - 1.5) + "px";
    sw.style.background = runColors[k];
    page.appendChild(sw);
    addText("run", L + (side ? 559 : 382), legRowY[row] - 18, run);
  });

  // theta caption
  addText("theta", (L + colRight[c]) / 2 - 450 + (c >= 2 ? 16 : 2), 1244, thetaNames[c]);

  for (let r = 0; r < 6; r++) {
    const bottom = r === 5;
    const color = runColors[r];
    const cv = document.createElement("canvas");
    cv.width = Y_AXIS_W + boxW + PAD_RIGHT;
    cv.height = PAD_TOP + BOX_H + (bottom ? X_AXIS_H : PAD_BOTTOM);
    cv.style.left = (L - Y_AXIS_W) + "px";
    cv.style.top = (rowTop[r] - PAD_TOP) + "px";
    page.appendChild(cv);

    const hiPts = channels.map((x, i) => ({ x, y: bandHi[c][r][i] }));
    const loPts = channels.map((x, i) => ({ x, y: bandLo[c][r][i] }));

    new Chart(cv, {
      type: "line",
      data: {
        datasets: [
          { type: "bar", label: runs[r], data: toXY(spikes[c][r]), backgroundColor: color,
            borderWidth: 0, barThickness: 3, grouped: false },
          { type: "bar", label: runs[r], data: toXY(hairs[c][r]), backgroundColor: color,
            borderWidth: 0, barThickness: 2, grouped: false },
          { label: runs[r], data: hiPts, borderColor: color, backgroundColor: color,
            borderWidth: 1.5, pointRadius: 0, tension: 0, fill: "+1" },
          { label: runs[r], data: loPts, borderColor: color, backgroundColor: color,
            borderWidth: 1.5, pointRadius: 0, tension: 0, fill: false }
        ]
      },
      options: {
        responsive: false,
        animation: false,
        devicePixelRatio: 1,
        events: [],
        layout: { padding: { top: PAD_TOP, right: PAD_RIGHT, left: 0, bottom: bottom ? 0 : PAD_BOTTOM } },
        plugins: {
          legend: { display: false },
          tooltip: { enabled: false },
          frameTicks: { step: yMinorSteps[c] }
        },
        scales: {
          x: {
            type: "linear", min: 0, max: X_MAX, offset: false, display: bottom,
            grid: { display: false, drawTicks: false },
            border: { display: false },
            afterBuildTicks: s => { s.ticks = xTickValues.map(value => ({ value })); },
            ticks: { autoSkip: false, maxRotation: 0, minRotation: 0,
                     font: { size: 34 }, color: "#000", padding: 3,
                     callback: v => String(v) },
            title: { display: true, text: "Gas Gap Channel", align: "end",
                     font: { size: 33 }, color: "#000", padding: 0 },
            afterFit: s => { s.height = bottom ? X_AXIS_H : 0; }
          },
          y: {
            min: -yLimits[c], max: yLimits[c],
            grid: { display: false, drawTicks: false },
            border: { display: false },
            afterBuildTicks: s => { s.ticks = yTickValues[c].map(value => ({ value })); },
            ticks: { autoSkip: false, font: { size: 34 }, color: "#000", padding: 4,
                     callback: v => String(v).replace("-", "\u2212") },
            title: { display: true, text: "\u03c3", align: "end",
                     font: { size: 32 }, color: "#000", padding: 0 },
            afterFit: s => { s.width = Y_AXIS_W; }
          }
        }
      },
      plugins: [frameTicks]
    });
  }
}
</script>
</body>
</html>
